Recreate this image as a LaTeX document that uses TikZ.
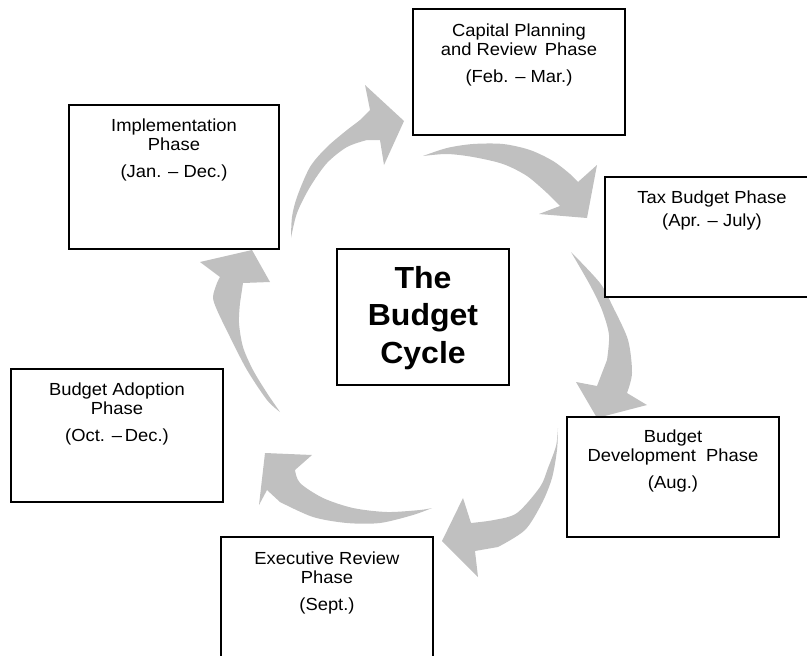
\documentclass[tikz,border=0pt]{standalone}
\usepackage{fontspec}
\setmainfont{Liberation Sans}[FakeStretch=1.05]
\usetikzlibrary{calc}
\definecolor{arrowgray}{RGB}{192,192,192}

\begin{document}
\begin{tikzpicture}[x=1pt, y=-1pt,
  phasebox/.style={draw=black, line width=1.4pt, fill=white, rectangle, inner sep=0pt},
  phasetext/.style={anchor=north, inner sep=0pt, align=center,
    font=\fontsize{17.5}{19.3}\selectfont},
  hubtext/.style={anchor=north, inner sep=0pt, align=center,
    font=\fontsize{30.5}{37.5}\selectfont\bfseries},
  cyclearrow/.style={fill=arrowgray, draw=none}]

\useasboundingbox (0,0) rectangle (807,656);
\clip (0,0) rectangle (807,656);

% ---- curved block arrows running clockwise round the cycle ----
% implementation -> capital planning
\fill[cyclearrow] plot[smooth] coordinates {(291,238) (292,217) (297,197) (310,167) (327,147) (347,130) (360,120) (370,110)}
  -- (365,85) -- (404,121) -- (384,165) -- (380,140)
  -- plot[smooth] coordinates {(367,140) (347,147) (327,163) (310,187) (297,213) (291,238)} -- cycle;
% capital planning -> tax budget
\fill[cyclearrow] plot[smooth] coordinates {(423,156) (447,148) (473,144) (503,144) (530,150) (553,161) (570,174) (578,182)}
  -- (597,165) -- (587,218) -- (539,214) -- (560,206)
  -- plot[smooth] coordinates {(547,193) (527,176) (503,164) (473,157) (447,154) (423,156)} -- cycle;
% tax budget -> budget development
\fill[cyclearrow] plot[smooth] coordinates {(571,252) (600,283) (613,307) (628,340) (632,373) (627,393)}
  -- (647,405) -- (597,418) -- (576,382) -- (597,386)
  -- plot[smooth] coordinates {(607,360) (609,335) (602,310) (590,285) (571,252)} -- cycle;
% budget development -> executive review
\fill[cyclearrow] plot[smooth] coordinates {(558,428) (556,446) (548,468) (540,487) (517,513) (494,520) (471,523)}
  -- (463,498) -- (442,541) -- (478,577) -- (475,551)
  -- plot[smooth] coordinates {(498,547) (525,530) (542,503) (552,478) (557,450) (558,428)} -- cycle;
% executive review -> budget adoption
\fill[cyclearrow] plot[smooth] coordinates {(432,508) (420,510) (387,512) (353,508) (323,498) (300,483) (295,470)}
  -- (312,455) -- (265,453) -- (259,505) -- (267,490)
  -- plot[smooth] coordinates {(280,502) (313,517) (347,523) (380,523) (413,515) (432,508)} -- cycle;
% budget adoption -> implementation
\fill[cyclearrow] plot[smooth] coordinates {(280,412) (267,400) (247,370) (230,337) (217,310) (213,297) (217,283) (220,277)}
  -- (200,262) -- (252,250) -- (270,282) -- (243,283)
  -- plot[smooth] coordinates {(240,303) (239,323) (243,347) (253,370) (267,393) (280,412)} -- cycle;

% ---- phase boxes ----
\node[phasebox, minimum width=212pt, minimum height=126pt] (capital) at (519,72) {};
\node[phasebox, minimum width=214pt, minimum height=120pt] (tax)     at (712,237) {};
\node[phasebox, minimum width=212pt, minimum height=120pt] (develop) at (673,477) {};
\node[phasebox, minimum width=212pt, minimum height=125pt] (exec)    at (327,599.5) {};
\node[phasebox, minimum width=212pt, minimum height=133pt] (adopt)   at (117,435.5) {};
\node[phasebox, minimum width=210pt, minimum height=144pt] (impl)    at (174,177) {};
\node[phasebox, minimum width=172pt, minimum height=136pt] (hub)     at (423,317) {};

% ---- box texts (first baseline about 27pt below each box top) ----
\node[phasetext] (capital-t) at ($(capital.north)+(0,15.4)$)
  {Capital Planning\\and Review\, Phase\\[7.4pt](Feb. -- Mar.)};
\node[phasetext] (tax-t) at ($(tax.north)+(0,14.4)$)
  {Tax Budget Phase\\[4pt](Apr. -- July)};
\node[phasetext] (develop-t) at ($(develop.north)+(0,13.4)$)
  {Budget\\Development\ \ Phase\\[7.4pt](Aug.)};
\node[phasetext] (exec-t) at ($(exec.north)+(0,15)$)
  {Executive Review\\Phase\\[7.4pt](Sept.)};
\node[phasetext] (adopt-t) at ($(adopt.north)+(0,14.4)$)
  {Budget Adoption\\Phase\\[7.4pt](Oct. --\,Dec.)};
\node[phasetext] (impl-t) at ($(impl.north)+(0,14.4)$)
  {Implementation\\Phase\\[7.4pt](Jan. -- Dec.)};
\node[hubtext] (hub-t) at ($(hub.north)+(0,17.5)$) {The\\Budget\\Cycle};
\end{tikzpicture}
\end{document}
